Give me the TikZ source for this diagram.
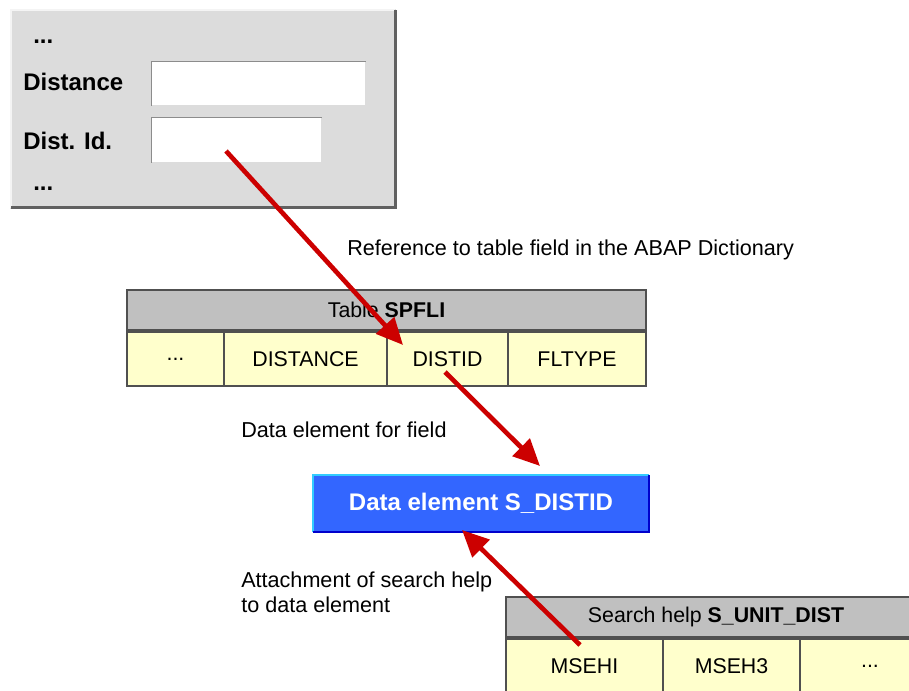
\documentclass[tikz,border=0pt]{standalone}
\usepackage{fontspec}
\setmainfont{Liberation Sans}
\usepackage{tikz}
\usetikzlibrary{arrows.meta, positioning, calc}
\definecolor{PanelGray}{RGB}{220, 220, 220}
\definecolor{PanelDark}{RGB}{96, 96, 96}
\definecolor{PanelLight}{RGB}{244, 244, 244}
\definecolor{FieldEdge}{RGB}{140, 140, 140}
\definecolor{HdrGray}{RGB}{192, 192, 192}
\definecolor{TblBorder}{RGB}{80, 80, 80}
\definecolor{CellYellow}{RGB}{255, 255, 204}
\definecolor{DEBlue}{RGB}{51, 102, 255}
\definecolor{DELight}{RGB}{51, 204, 255}
\definecolor{DEDark}{RGB}{0, 0, 204}
\definecolor{ArrowRed}{RGB}{204, 0, 0}

\begin{document}
\begin{tikzpicture}[x=0.75pt,y=-0.75pt,
  txt/.style={anchor=west, inner sep=0pt, font=\fontsize{16.2}{18.75}\selectfont},
  boldtxt/.style={anchor=west, inner sep=0pt, font=\fontsize{18}{21}\selectfont\bfseries},
  field/.style={fill=white, inner sep=0pt, anchor=north west},
  hdr/.style={draw=TblBorder, line width=1.5pt, fill=HdrGray, inner sep=0pt,
    minimum height=30pt, font=\fontsize{16}{18}\selectfont},
  cell/.style={draw=TblBorder, line width=1.5pt, fill=CellYellow, inner sep=0pt,
    minimum height=40.5pt, font=\fontsize{16}{18}\selectfont},
  redarrow/.style={draw=ArrowRed, line width=3.5pt, -{Triangle[length=20pt,width=18pt]}}
]
  \path[use as bounding box] (0,0) rectangle (909,691);

  % Screen panel
  \fill[PanelGray] (10,9) rectangle (396,209);
  \draw[PanelLight, line width=1.5pt] (11,208) -- (11,10) -- (395,10);
  \draw[PanelDark, line width=2.25pt] (11,208) -- (395,208) -- (395,10);
  \node[boldtxt] (dots1) at (33,42) {...};
  \node[boldtxt] (ldist) at (23,82) {Distance};
  \node[boldtxt] (ldistid) at (23,141) {Dist. Id.};
  \node[boldtxt] (dots2) at (33,189) {...};
  \node[field, minimum width=160.5pt, minimum height=32.25pt] (fdist) at (151,62) {};
  \draw[FieldEdge, line width=0.75pt] (fdist.south west) -- (fdist.north west) -- (fdist.north east);
  \node[field, minimum width=127.5pt, minimum height=33pt] (fdistid) at (151,118) {};
  \draw[FieldEdge, line width=0.75pt] (fdistid.south west) -- (fdistid.north west) -- (fdistid.north east);

  % Table SPFLI
  \node[txt] (lref) at (347,250) {Reference to table field in the ABAP Dictionary};
  \node[hdr, minimum width=389.25pt] (tspfli) at (386.5,310) {Table \textbf{SPFLI}};
  \node[cell, minimum width=72.75pt] (cdots) at (175.5,359) {...};
  \node[cell, minimum width=122.25pt] (cdist) at (305.5,359) {DISTANCE};
  \node[cell, minimum width=90.75pt] (cdistid) at (447.5,359) {DISTID};
  \node[cell, minimum width=103.5pt] (cfltype) at (577,359) {FLTYPE};

  % Data element
  \node[txt] (lfield) at (241,430) {Data element for field};
  \node[fill=DEBlue, minimum width=252pt, minimum height=42.75pt, inner sep=0pt,
    text=white, font=\fontsize{18}{21}\selectfont\bfseries] (dtel) at (481,503.5) {Data element S\_DISTID};
  \draw[DELight, line width=1.5pt] (dtel.south west) -- (dtel.north west) -- (dtel.north east);
  \draw[DEDark, line width=1.5pt] (dtel.south west) -- (dtel.south east) -- (dtel.north east);

  % Search help
  \node[txt, align=left, anchor=north west] (lattach) at (241,572) {Attachment of search help\\to data element};
  \node[hdr, minimum width=315pt] (shlp) at (716,617) {Search help \textbf{S\_UNIT\_DIST}};
  \node[cell, minimum width=117.75pt] (cmsehi) at (584.5,666) {MSEHI};
  \node[cell, minimum width=102.75pt] (cmseh3) at (731.5,666) {MSEH3};
  \node[cell, minimum width=105pt] (cdots3) at (870,666) {...};

  % Arrows
  \coordinate (a1s) at (226,151);
  \coordinate (a1e) at (403,345);
  \coordinate (a2s) at (445,372);
  \coordinate (a2e) at (540,466);
  \coordinate (a3s) at (580,645);
  \coordinate (a3e) at (462,530);
  \draw[redarrow] (a1s) -- (a1e);
  \draw[redarrow] (a2s) -- (a2e);
  \draw[redarrow] (a3s) -- (a3e);
\end{tikzpicture}
\end{document}
